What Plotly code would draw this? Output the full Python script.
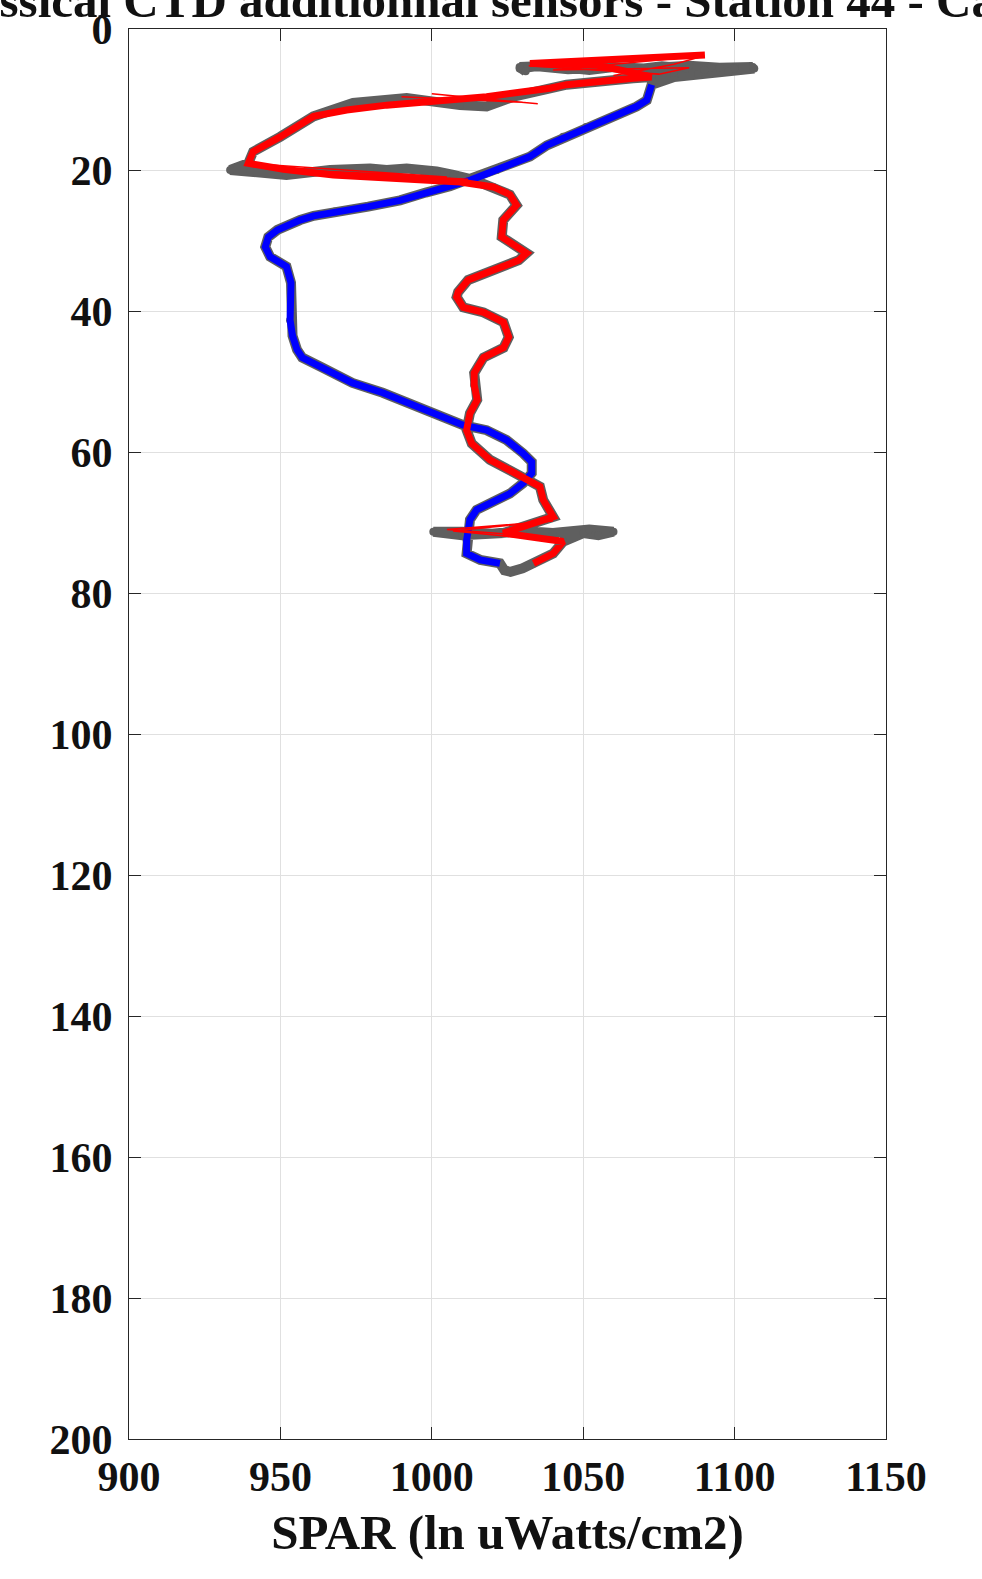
import plotly.graph_objects as go

# ---- data (SPAR in ln uWatts/cm2, depth in m) ----
blue_depth = [7.9, 10.1, 11.0, 12.4, 13.9, 15.3, 16.5, 18.1, 20.0, 21.4, 22.3, 23.2, 24.3, 25.2,
              25.9, 26.5, 27.1, 28.5, 29.5, 30.9, 32.3, 33.7, 36.0, 38.5, 41.3, 43.5, 45.5, 46.6,
              48.0, 50.2, 51.6, 52.6, 54.5, 56.2, 56.9, 58.3, 60.2, 61.4, 63.0, 64.4, 65.9, 67.3,
              68.2, 69.6, 72.5, 74.4, 75.3, 75.8]
blue_spar = [1072.6, 1071.0, 1067.6, 1060.0, 1051.0, 1043.4, 1038.0, 1032.4, 1021.4, 1013.0,
             1006.0, 998.0, 989.5, 979.0, 968.0, 961.0, 956.5, 949.0, 946.0, 945.0, 946.6, 952.0,
             953.5, 953.5, 953.2, 954.0, 955.5, 957.2, 963.8, 973.8, 983.8, 989.5, 1000.5, 1010.4,
             1018.1, 1024.7, 1030.2, 1033.0, 1033.0, 1030.2, 1025.8, 1019.2, 1014.8, 1012.6,
             1011.5, 1011.5, 1016.0, 1022.5]

red_depth = [75.8, 74.4, 72.7, 71.5, 69.2, 66.8, 64.9, 64.0, 62.6, 61.1, 58.8, 56.9, 54.5, 52.6,
             50.5, 48.8, 46.6, 45.2, 43.7, 41.6, 40.2, 39.5, 38.0, 37.3, 35.6, 34.2, 32.8, 31.8,
             29.5, 27.1, 25.0, 23.5, 22.4, 21.7, 21.2, 20.7, 19.9, 19.05, 17.4, 15.3, 12.4, 11.5,
             10.8, 10.3, 9.6, 8.4, 7.9, 7.0, 6.8, 5.1, 4.9, 3.7]
red_spar = [1033.6, 1040.1, 1043.4, 1023.6, 1040.1, 1036.8, 1035.7, 1031.3, 1025.8, 1019.2,
            1013.2, 1011.5, 1012.6, 1015.0, 1014.0, 1014.0, 1017.1, 1023.7, 1025.4, 1023.7,
            1017.1, 1010.4, 1008.2, 1008.7, 1012.0, 1020.4, 1028.7, 1031.3, 1023.1, 1023.6,
            1028.0, 1025.8, 1020.3, 1009.3, 989.5, 967.5, 951.0, 939.4, 941.0, 949.9, 960.9,
            971.9, 985.1, 1000.5, 1018.1, 1039.0, 1044.5, 1066.5, 1072.6, 1054.5, 1032.4, 1090.2]

thin_depth = [72.7, 71.2, 69.8, 71.0, 72.2, None,
              19.05, 21.0, 19.8, 21.3, None,
              9.6, 10.4, 9.2, 10.6, None,
              5.2, 6.4, 5.5, 5.8, 3.8, 5.0, 6.6]
thin_spar = [1043.4, 1007.0, 1040.0, 1005.0, 1042.0, None,
             939.4, 1005.0, 945.0, 1012.0, None,
             990.0, 1030.0, 1000.0, 1035.0, None,
             1032.0, 1075.0, 1085.0, 1040.0, 1090.0, 1080.0, 1060.0]

gray_depth = [5.6, 5.2, 5.5, 5.8, 5.4, 5.7, 5.3, 5.6, 5.5, 5.4, 5.6, 6.0, 6.4, 6.8,
              7.9, 10.1, 11.0, 12.4, 13.9, 15.3, 16.5, 18.1, 20.0, 21.4, 22.3, 23.2, 24.3, 25.2,
              25.9, 26.5, 27.1, 28.5, 29.5, 30.9, 32.3, 33.7, 36.0, 38.5, 41.3, 43.5, 45.5, 46.6,
              48.0, 50.2, 51.6, 52.6, 54.5, 56.2, 56.9, 58.3, 60.2, 61.4, 63.0, 64.4, 65.9, 67.3,
              68.2, 69.6, 72.5, 74.4, 75.3, 75.8, 76.8, 77.0, 76.5, 75.8,
              74.4, 72.7, 71.5, 71.8, 71.3, 71.0, 71.5, 71.2, 71.6, 71.3, 71.3, 71.8, 71.5,
              69.2, 66.8, 64.9, 64.0, 62.6, 61.1, 58.8, 56.9, 54.5, 52.6, 50.5, 48.8, 46.6, 45.2,
              43.7, 41.6, 40.2, 39.5, 38.0, 37.3, 35.6, 34.2, 32.8, 31.8, 29.5, 27.1, 25.0, 23.5,
              22.4, 21.4, 20.7, 20.2, 19.8, 20.0, 19.8, 20.0, 20.7, 20.3, 20.0, 19.05,
              17.4, 15.3, 12.4, 10.5, 9.8, 10.8, 11.0, 9.6, 8.4, 7.9, 7.0, 6.8,
              6.2, 5.8, 5.6, 5.4, 5.5, 5.2, 5.6, 5.4, 5.7, 5.3, 5.4, 6.0]
gray_spar = [1029.0, 1036.0, 1045.0, 1052.0, 1060.0, 1068.0, 1076.0, 1084.0, 1092.0, 1100.0,
             1106.5, 1098.0, 1088.0, 1080.0,
             1072.6, 1071.0, 1067.6, 1060.0, 1051.0, 1043.4, 1038.0, 1032.4, 1021.4, 1013.0,
             1006.0, 998.0, 989.5, 979.0, 968.0, 961.0, 956.5, 949.0, 946.0, 945.0, 946.6, 952.0,
             953.5, 953.5, 953.2, 954.0, 955.5, 957.2, 963.8, 973.8, 983.8, 989.5, 1000.5, 1010.4,
             1018.1, 1024.7, 1030.2, 1033.0, 1033.0, 1030.2, 1025.8, 1019.2, 1014.8, 1012.6,
             1011.5, 1011.5, 1016.0, 1022.5, 1024.0, 1026.0, 1030.0, 1033.6,
             1040.1, 1043.4, 1050.0, 1055.0, 1060.0, 1052.0, 1040.0, 1030.0, 1020.0, 1010.0,
             1000.5, 1010.0, 1023.6,
             1040.1, 1036.8, 1035.7, 1031.3, 1025.8, 1019.2, 1013.2, 1011.5, 1012.6, 1015.0,
             1014.0, 1014.0, 1017.1, 1023.7, 1025.4, 1023.7, 1017.1, 1010.4, 1008.2, 1008.7,
             1012.0, 1020.4, 1028.7, 1031.3, 1023.1, 1023.6, 1028.0, 1025.8,
             1020.3, 1013.7, 1007.1, 1001.6, 991.7, 985.1, 979.6, 966.4, 952.0, 940.0, 933.4,
             939.4,
             941.0, 949.9, 960.9, 974.0, 991.7, 1009.3, 1018.1, 1027.0, 1039.0, 1044.5, 1066.5,
             1072.6,
             1080.0, 1090.0, 1100.0, 1106.0, 1095.0, 1085.0, 1070.0, 1060.0, 1045.0, 1035.0,
             1029.0, 1031.0]

x_ticks = [900, 950, 1000, 1050, 1100, 1150]
y_ticks = [0, 20, 40, 60, 80, 100, 120, 140, 160, 180, 200]

FONT = "Liberation Serif"
AX = "#262626"

fig = go.Figure()
fig.add_trace(go.Scatter(x=gray_spar, y=gray_depth, mode="lines+markers",
                         line=dict(color="#5f5f5f", width=10),
                         marker=dict(color="#5f5f5f", size=8), showlegend=False))
fig.add_trace(go.Scatter(x=blue_spar, y=blue_depth, mode="lines",
                         line=dict(color="#0000ff", width=7), showlegend=False))
fig.add_trace(go.Scatter(x=thin_spar, y=thin_depth, mode="lines",
                         line=dict(color="#ff0000", width=1.5), showlegend=False))
fig.add_trace(go.Scatter(x=red_spar, y=red_depth, mode="lines",
                         line=dict(color="#ff0000", width=7), showlegend=False))

axis_common = dict(showline=True, linecolor=AX, linewidth=1.2, mirror="ticks",
                   ticks="inside", ticklen=12, tickcolor=AX, tickwidth=1.2,
                   showgrid=True, gridcolor="#e0e0e0", gridwidth=1, zeroline=False,
                   automargin=False,
                   tickfont=dict(family=FONT, size=42, color="#111111", weight="bold"))

fig.update_xaxes(range=[900, 1150], tickvals=x_ticks, ticktext=[str(v) for v in x_ticks],
                 ticklabelstandoff=0,
                 title=dict(text="SPAR (ln uWatts/cm2)", standoff=16,
                            font=dict(family=FONT, size=49, color="#111111", weight="bold")),
                 **axis_common)
fig.update_yaxes(range=[200, 0], tickvals=y_ticks, ticktext=[str(v) for v in y_ticks],
                 ticklabelstandoff=7, **axis_common)

fig.add_annotation(text="Classical CTD additionnal sensors - Station 44 - Cast 1",
                   xref="paper", yref="paper", x=-0.2708, y=0.999,
                   xanchor="left", yanchor="bottom", showarrow=False,
                   font=dict(family=FONT, size=49, color="#111111", weight="bold"))

fig.update_layout(width=982, height=1579, margin=dict(l=129, r=96, t=29, b=140),
                  plot_bgcolor="white", paper_bgcolor="white")

fig.write_html("out.html", config={"displayModeBar": False},
               post_script="document.body.style.margin='0';document.body.style.padding='0';")
